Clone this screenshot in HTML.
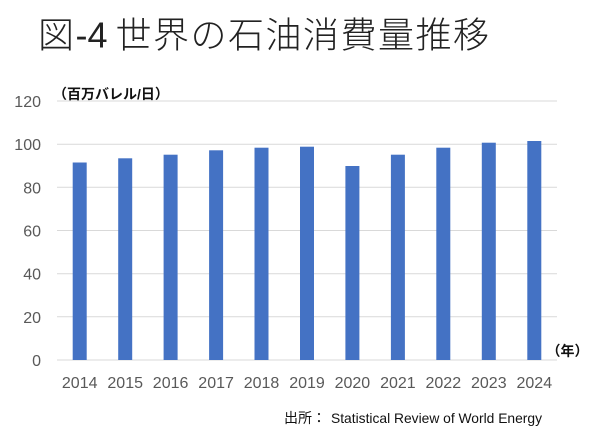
<!DOCTYPE html>
<html><head><meta charset="utf-8"><style>
html,body{margin:0;padding:0;background:#fff;}
svg{display:block;}
</style></head><body>
<svg width="600" height="434" viewBox="0 0 600 434" xmlns="http://www.w3.org/2000/svg">
<rect width="600" height="434" fill="#fff"/>
<g font-family="'Liberation Sans','Noto Sans CJK JP',sans-serif" font-size="36" font-weight="300" fill="#222">
<text x="38" y="47.5">図</text>
<text x="75.5" y="47.5">-4</text>
<text x="115.5" y="47.5" letter-spacing="1.5">世界の石油消費量推移</text>
</g>
<g stroke="#d9d9d9" stroke-width="1">
<line x1="57" x2="557" y1="101" y2="101"/>
<line x1="57" x2="557" y1="144.2" y2="144.2"/>
<line x1="57" x2="557" y1="187.3" y2="187.3"/>
<line x1="57" x2="557" y1="230.5" y2="230.5"/>
<line x1="57" x2="557" y1="273.7" y2="273.7"/>
<line x1="57" x2="557" y1="316.8" y2="316.8"/>
<line x1="57" x2="557" y1="360" y2="360"/>
</g>
<g font-family="'Liberation Sans',sans-serif" font-size="16" fill="#595959" text-anchor="end">
<text x="41" y="107">120</text>
<text x="41" y="150.2">100</text>
<text x="41" y="193.3">80</text>
<text x="41" y="236.5">60</text>
<text x="41" y="279.7">40</text>
<text x="41" y="322.8">20</text>
<text x="41" y="366">0</text>
</g>
<g fill="#4472c4">
<rect x="72.7" y="162.5" width="14" height="197.5"/>
<rect x="118.2" y="158.3" width="14" height="201.7"/>
<rect x="163.6" y="154.7" width="14" height="205.3"/>
<rect x="209.1" y="150.3" width="14" height="209.7"/>
<rect x="254.5" y="147.7" width="14" height="212.3"/>
<rect x="300" y="146.7" width="14" height="213.3"/>
<rect x="345.4" y="166" width="14" height="194"/>
<rect x="390.9" y="154.7" width="14" height="205.3"/>
<rect x="436.3" y="147.7" width="14" height="212.3"/>
<rect x="481.8" y="142.7" width="14" height="217.3"/>
<rect x="527.3" y="141" width="14" height="219"/>
</g>
<g font-family="'Liberation Sans',sans-serif" font-size="16" fill="#595959" text-anchor="middle">
<text x="79.7" y="388">2014</text>
<text x="125.2" y="388">2015</text>
<text x="170.6" y="388">2016</text>
<text x="216.1" y="388">2017</text>
<text x="261.5" y="388">2018</text>
<text x="307" y="388">2019</text>
<text x="352.4" y="388">2020</text>
<text x="397.9" y="388">2021</text>
<text x="443.3" y="388">2022</text>
<text x="488.8" y="388">2023</text>
<text x="534.3" y="388">2024</text>
</g>
<text x="53" y="99" font-family="'Liberation Sans','Noto Sans CJK JP',sans-serif" font-size="14" font-weight="bold" fill="#111">（百万バレル/日）</text>
<text x="546.5" y="356" font-family="'Liberation Sans','Noto Sans CJK JP',sans-serif" font-size="14" font-weight="bold" fill="#111">（年）</text>
<text x="284" y="423" font-family="'Liberation Sans','Noto Sans CJK JP',sans-serif" font-size="14" fill="#111">出所：</text>
<text x="331" y="423" font-family="'Liberation Sans',sans-serif" font-size="14" fill="#111" textLength="211" lengthAdjust="spacingAndGlyphs">Statistical Review of World Energy</text>
</svg>
</body></html>
